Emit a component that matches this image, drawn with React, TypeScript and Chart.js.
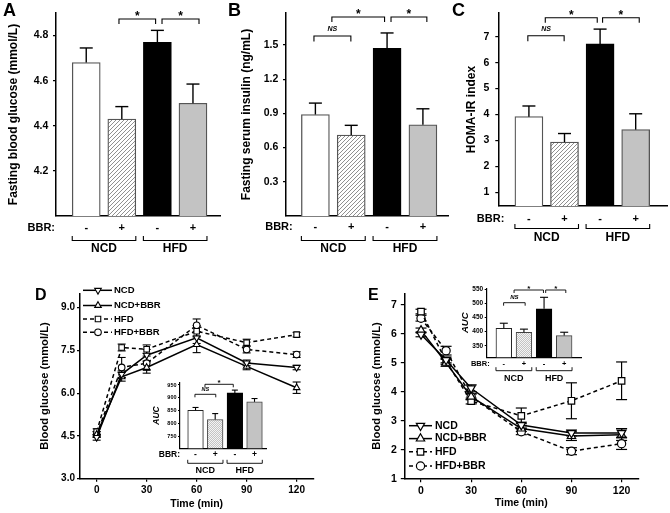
import React, { useEffect, useRef } from "react";
import { Chart, registerables } from "chart.js";

Chart.register(...registerables);

const FONT = "'Liberation Sans', Arial, Helvetica, sans-serif";

/* ================= data ================= */
const groups = ["NCD", "HFD"];
const bbrSigns = ["-", "+", "-", "+"];
const barSlots = [1, 2, 3, 4];

const glucoseMean = [4.68, 4.43, 4.77, 4.5];
const glucoseSem = [0.065, 0.055, 0.053, 0.085];
const glucoseTicks = [4.2, 4.4, 4.6, 4.8];

const insulinMean = [0.89, 0.71, 1.47, 0.8];
const insulinSem = [0.1, 0.085, 0.135, 0.14];
const insulinTicks = [0.3, 0.6, 0.9, 1.2, 1.5];

const homaMean = [3.92, 2.94, 6.72, 3.42];
const homaSem = [0.41, 0.33, 0.57, 0.61];
const homaTicks = [1, 2, 3, 4, 5, 6, 7];

const ogttAuc = [851, 815, 919, 884];
const ogttAucSem = [11, 23, 11, 13];
const ogttAucTicks = [750, 800, 850, 900, 950];

const ittAuc = [412, 398, 481, 386];
const ittAucSem = [18, 11, 41, 12];
const ittAucTicks = [350, 400, 450, 500, 550];

const timeMin = [0, 15, 30, 60, 90, 120];
const timeTicks = [0, 30, 60, 90, 120];
const seriesNames = ["NCD", "NCD+BBR", "HFD", "HFD+BBR"];

const ogttNCD = [4.45, 6.66, 7.33, 7.94, 7.06, 6.9];
const ogttNCDBBR = [4.55, 6.57, 6.9, 7.7, 6.94, 6.19];
const ogttHFD = [4.65, 7.6, 7.54, 8.17, 7.77, 8.05];
const ogttHFDBBR = [4.55, 6.9, 7.05, 8.38, 7.53, 7.35];
const ogttNCDSem = [0.1, 0.12, 0.2, 0.2, 0.1, 0.08];
const ogttNCDBBRSem = [0.1, 0.15, 0.2, 0.28, 0.12, 0.2];
const ogttHFDSem = [0.1, 0.12, 0.15, 0.2, 0.12, 0.08];
const ogttHFDBBRSem = [0.1, 0.35, 0.25, 0.22, 0.12, 0.1];
const ogttTicks = [3.0, 4.5, 6.0, 7.5, 9.0];

const ittNCD = [5.98, 5.1, 4.12, 2.85, 2.58, 2.58];
const ittNCDBBR = [6.12, 5.0, 3.83, 2.73, 2.47, 2.52];
const ittHFD = [6.77, 5.05, 3.68, 3.17, 3.69, 4.38];
const ittHFDBBR = [6.54, 5.42, 3.83, 2.62, 1.95, 2.21];
const ittNCDSem = [0.08, 0.1, 0.12, 0.1, 0.1, 0.15];
const ittNCDBBRSem = [0.08, 0.12, 0.1, 0.1, 0.15, 0.2];
const ittHFDSem = [0.08, 0.1, 0.1, 0.27, 0.62, 0.65];
const ittHFDBBRSem = [0.1, 0.15, 0.1, 0.1, 0.12, 0.2];
const ittTicks = [1, 2, 3, 4, 5, 6, 7];

/* ================= styles / layout ================= */
const lineStyles = [
  { point: "triangle", rot: 180, dashed: false },
  { point: "triangle", rot: 0, dashed: false },
  { point: "rect", rot: 0, dashed: true },
  { point: "circle", rot: 0, dashed: true },
];

type Rect = { l: number; t: number; w: number; h: number };
type Area = { l: number; t: number; r: number; b: number };

const mainBar = {
  barW: 28, barBorder: 1.3, axisW: 1.5, tickW: 1.2, tickLen: 3, tickSize: 10.5,
  titleSize: 12, cap: 13, errW: 1.4, bracketW: 1.1, starSize: 12, starDy: 1,
  nsSize: 7, nsDy: 7, bbrSize: 11, grpSize: 12, grpUp: 4.5,
  fills: ["white", "hatch", "black", "gray"],
  borders: ["#555", "#555", "#000", "#555"],
};

const panelA = {
  ...mainBar,
  rect: { l: 0, t: 0, w: 226, h: 256 }, area: { l: 56, t: 13, r: 220, b: 216 },
  xRange: [0.15, 4.76], yRange: [4.0, 4.9],
  values: glucoseMean, errors: glucoseSem, ticks: glucoseTicks, decimals: 1,
  title: "Fasting blood glucose (mmol/L)", titleX: 13.5, tickPad: 4.7,
  brackets: [
    { from: 1.92, to: 2.95, text: "*", dy: 6, drop: 5 },
    { from: 3.13, to: 4.17, text: "*", dy: 6, drop: 5 },
  ],
  bbrDx: -1, bbrDy: 12, grpDy: 24.5, grpLabelDy: 33,
  letter: { text: "A", x: 3, y: 15.5, size: 18 },
};

const panelB = {
  ...mainBar,
  rect: { l: 225, t: 0, w: 236, h: 256 }, area: { l: 286, t: 13, r: 448, b: 216 },
  xRange: [0.18, 4.7], yRange: [0, 1.78],
  values: insulinMean, errors: insulinSem, ticks: insulinTicks, decimals: 1,
  title: "Fasting serum insulin (ng/mL)", titleX: 246.7, tickPad: 4.7,
  brackets: [
    { from: 0.96, to: 1.99, text: "NS", dy: 23, drop: 5.5 },
    { from: 1.46, to: 2.93, text: "*", dy: 4, drop: 5 },
    { from: 3.11, to: 4.11, text: "*", dy: 4, drop: 5 },
  ],
  bbrDx: 6.7, bbrDy: 11, grpDy: 24.5, grpLabelDy: 33,
  letter: { text: "B", x: 228, y: 15.5, size: 18 },
};

const panelC = {
  ...mainBar,
  rect: { l: 445, t: 0, w: 225, h: 256 }, area: { l: 498.3, t: 13, r: 667, b: 206 },
  xRange: [0.14, 4.88], yRange: [0.48, 7.91],
  values: homaMean, errors: homaSem, ticks: homaTicks, decimals: 0,
  title: "HOMA-IR index", titleX: 471.7, tickPad: 6,
  brackets: [
    { from: 0.97, to: 1.99, text: "NS", dy: 22.7, drop: 5.5 },
    { from: 1.46, to: 2.92, text: "*", dy: 4.7, drop: 5 },
    { from: 3.07, to: 4.1, text: "*", dy: 4.7, drop: 5 },
  ],
  bbrDx: 6, bbrDy: 13.3, grpDy: 22.5, grpLabelDy: 32,
  letter: { text: "C", x: 452, y: 15.5, size: 18 },
};

const insetBar = {
  barBorder: 1, axisW: 1.2, tickW: 1, tickLen: 2, errW: 1.1, bracketW: 0.9,
  fills: ["white", "dots", "black", "gray"],
  borders: ["#222", "#444", "#000", "#444"],
  titleItalic: true, grpUp: 3.5,
};

const insetD = {
  ...insetBar,
  rect: { l: 145, t: 372, w: 128, h: 106 }, area: { l: 180, t: 382.7, r: 266.7, b: 448.3 },
  xRange: [0.21, 4.62], yRange: [702, 959],
  values: ogttAuc, errors: ogttAucSem, ticks: ogttAucTicks, decimals: 0,
  title: "AUC", titleX: 156.7, titleSize: 8.5, tickSize: 5.5, tickPad: 1.5,
  barW: 15.6, cap: 6, starSize: 8, starDy: 0.5, nsSize: 5.5, nsDy: 4.5,
  brackets: [
    { from: 0.97, to: 2.03, text: "NS", dy: 11.6, drop: 3 },
    { from: 1.48, to: 2.92, text: "*", dy: 1.6, drop: 3 },
  ],
  bbrSize: 8.5, bbrDx: 0, bbrDy: 6.7, grpDy: 15, grpLabelDy: 22, grpSize: 9,
  letter: null,
};

const insetE = {
  ...insetBar,
  rect: { l: 455, t: 276, w: 130, h: 108 }, area: { l: 486.7, t: 288.3, r: 581.7, b: 357.3 },
  xRange: [0.15, 4.87], yRange: [309, 554],
  values: ittAuc, errors: ittAucSem, ticks: ittAucTicks, decimals: 0,
  title: "AUC", titleX: 465.5, titleSize: 9.5, tickSize: 6.5, tickPad: 1.5,
  barW: 15.7, cap: 8, starSize: 8, starDy: 0.5, nsSize: 6, nsDy: 5,
  brackets: [
    { from: 0.99, to: 2.06, text: "NS", dy: 14.4, drop: 3 },
    { from: 1.51, to: 2.97, text: "*", dy: 1.7, drop: 3 },
    { from: 3.08, to: 4.08, text: "*", dy: 1.7, drop: 3 },
  ],
  bbrSize: 7.5, bbrDx: 3, bbrDy: 7, grpDy: 13.4, grpLabelDy: 21, grpSize: 9,
  letter: null,
};

const panelD = {
  rect: { l: 0, t: 268, w: 335, h: 245 }, area: { l: 80, t: 293.3, r: 313.3, b: 478.7 },
  xRange: [-10, 130], yRange: [3, 9.5], yTicks: ogttTicks, yDec: 1,
  series: [ogttNCD, ogttNCDBBR, ogttHFD, ogttHFDBBR],
  errors: [ogttNCDSem, ogttNCDBBRSem, ogttHFDSem, ogttHFDBBRSem],
  yTitle: "Blood glucose (mmol/L)", yTitleX: 45, yTitleSize: 11.2,
  xTitle: "Time (min)", xTitleY: 504, xTitleSize: 10.5,
  tickSize: 10, yTickPad: 2, xTickPad: 3, tickLen: 3, axisW: 1.5,
  lineW: 1.5, dash: [4, 3], radius: [3.8, 3.8, 3.9, 3.3], pointBorder: 1.1, cap: 8, errW: 1.1,
  legend: { x1: 83, x2: 112, mx: 98, tx: 114, ys: [290.3, 305.5, 319, 332.3], size: 9.5 },
  letter: { text: "D", x: 35, y: 300, size: 16 },
};

const panelE = {
  rect: { l: 335, t: 268, w: 335, h: 245 }, area: { l: 404.3, t: 293.3, r: 638.3, b: 478.7 },
  xRange: [-10, 130], yRange: [1, 7.4], yTicks: ittTicks, yDec: 0,
  series: [ittNCD, ittNCDBBR, ittHFD, ittHFDBBR],
  errors: [ittNCDSem, ittNCDBBRSem, ittHFDSem, ittHFDBBRSem],
  yTitle: "Blood glucose (mmol/L)", yTitleX: 376.7, yTitleSize: 11.2,
  xTitle: "Time (min)", xTitleY: 503.3, xTitleSize: 10.5,
  tickSize: 10.5, yTickPad: 4, xTickPad: 3, tickLen: 3.5, axisW: 1.5,
  lineW: 1.5, dash: [4, 3], radius: [4.8, 4.8, 4.6, 4.1], pointBorder: 1.2, cap: 11, errW: 1.2,
  legend: { x1: 409, x2: 432, mx: 420.5, tx: 435, ys: [425.7, 438.6, 451.8, 466], size: 10.5 },
  letter: { text: "E", x: 368, y: 300, size: 16 },
};

/* ================= helpers ================= */
function fontStr(size: number, italic = false) {
  return `${italic ? "italic " : ""}bold ${size}px ${FONT}`;
}
function txt(ctx: CanvasRenderingContext2D, s: string, x: number, y: number, size: number,
  align: CanvasTextAlign = "center", baseline: CanvasTextBaseline = "middle", italic = false) {
  ctx.font = fontStr(size, italic);
  ctx.textAlign = align;
  ctx.textBaseline = baseline;
  ctx.fillStyle = "#000";
  ctx.fillText(s, x, y);
}
function seg(ctx: CanvasRenderingContext2D, pts: number[][]) {
  ctx.beginPath();
  ctx.moveTo(pts[0][0], pts[0][1]);
  for (let i = 1; i < pts.length; i++) ctx.lineTo(pts[i][0], pts[i][1]);
  ctx.stroke();
}
function marker(ctx: CanvasRenderingContext2D, style: string, rot: number, r: number, x: number, y: number) {
  ctx.beginPath();
  if (style === "circle") ctx.arc(x, y, r, 0, Math.PI * 2);
  else if (style === "rect") {
    const s = r * Math.SQRT1_2;
    ctx.rect(x - s, y - s, 2 * s, 2 * s);
  } else {
    const rad = (rot * Math.PI) / 180;
    for (let k = 0; k < 3; k++) {
      const a = rad + (k * 2 * Math.PI) / 3;
      const px = x + Math.sin(a) * r, py = y - Math.cos(a) * r;
      if (k) ctx.lineTo(px, py); else ctx.moveTo(px, py);
    }
    ctx.closePath();
  }
  ctx.fill();
  ctx.stroke();
}
function hatchPattern(ctx: CanvasRenderingContext2D) {
  const c = document.createElement("canvas");
  c.width = 4; c.height = 4;
  const g = c.getContext("2d")!;
  g.fillStyle = "#fff"; g.fillRect(0, 0, 4, 4);
  g.strokeStyle = "#909090"; g.lineWidth = 1;
  g.beginPath();
  g.moveTo(0, 4); g.lineTo(4, 0);
  g.moveTo(-1, 1); g.lineTo(1, -1);
  g.moveTo(3, 5); g.lineTo(5, 3);
  g.stroke();
  return ctx.createPattern(c, "repeat")!;
}
function dotPattern(ctx: CanvasRenderingContext2D) {
  const c = document.createElement("canvas");
  c.width = 2; c.height = 2;
  const g = c.getContext("2d")!;
  g.fillStyle = "#f4f4f4"; g.fillRect(0, 0, 2, 2);
  g.fillStyle = "#c4c4c4"; g.fillRect(0, 0, 1, 1); g.fillRect(1, 1, 1, 1);
  return ctx.createPattern(c, "repeat")!;
}

/* ================= bar panels ================= */
function barDecor(p: any) {
  return {
    id: "barDecor",
    afterDatasetsDraw(chart: any) {
      const { ctx, scales: { x, y } } = chart;
      ctx.save();
      ctx.strokeStyle = "#000";
      ctx.lineWidth = p.errW;
      p.values.forEach((v: number, i: number) => {
        const cx = x.getPixelForValue(barSlots[i]);
        const y0 = y.getPixelForValue(v);
        const y1 = y.getPixelForValue(v + p.errors[i]);
        seg(ctx, [[cx, y0], [cx, y1]]);
        seg(ctx, [[cx - p.cap / 2, y1], [cx + p.cap / 2, y1]]);
      });
      ctx.restore();
    },
    afterDraw(chart: any) {
      const { ctx, chartArea: a, scales: { x } } = chart;
      const c = p.rect;
      ctx.save();
      ctx.strokeStyle = "#000";
      ctx.lineWidth = p.bracketW;
      p.brackets.forEach((b: any) => {
        const x1 = x.getPixelForValue(b.from), x2 = x.getPixelForValue(b.to);
        const yb = a.top + b.dy;
        seg(ctx, [[x1, yb + b.drop], [x1, yb], [x2, yb], [x2, yb + b.drop]]);
        if (b.text === "*") txt(ctx, "*", (x1 + x2) / 2, yb + p.starDy, p.starSize, "center", "alphabetic");
        else txt(ctx, b.text, (x1 + x2) / 2, yb - p.nsDy, p.nsSize, "center", "middle", true);
      });
      const rowY = a.bottom + p.bbrDy;
      txt(ctx, "BBR:", a.left + p.bbrDx, rowY, p.bbrSize, "right");
      bbrSigns.forEach((s, i) => txt(ctx, s, x.getPixelForValue(barSlots[i]), rowY, p.bbrSize));
      groups.forEach((g, gi) => {
        const xl = x.getPixelForValue(barSlots[2 * gi]) - p.barW / 2;
        const xr = x.getPixelForValue(barSlots[2 * gi + 1]) + p.barW / 2;
        const gy = a.bottom + p.grpDy;
        seg(ctx, [[xl, gy - p.grpUp], [xl, gy], [xr, gy], [xr, gy - p.grpUp]]);
        txt(ctx, g, (xl + xr) / 2, a.bottom + p.grpLabelDy, p.grpSize);
      });
      if (p.letter) txt(ctx, p.letter.text, p.letter.x - c.l, p.letter.y - c.t, p.letter.size, "left", "alphabetic");
      ctx.restore();
    },
  };
}

function buildBar(canvas: HTMLCanvasElement, p: any) {
  const ctx = canvas.getContext("2d")!;
  const fillMap: Record<string, any> = {
    white: "#ffffff", hatch: hatchPattern(ctx), dots: dotPattern(ctx), black: "#000000", gray: "#c3c3c3",
  };
  const c: Rect = p.rect, a: Area = p.area;
  const lh = p.titleSize * 1.2;
  return new Chart(canvas, {
    type: "bar",
    data: {
      datasets: [{
        data: barSlots.map((s, i) => ({ x: s, y: p.values[i] })),
        backgroundColor: p.fills.map((f: string) => fillMap[f]),
        borderColor: p.borders,
        borderWidth: p.barBorder,
        barThickness: p.barW,
      }],
    },
    options: {
      animation: false, responsive: false, devicePixelRatio: 1, events: [],
      layout: { autoPadding: false, padding: { left: 0, top: a.t - c.t, right: c.l + c.w - a.r, bottom: 0 } },
      plugins: { legend: { display: false }, tooltip: { enabled: false } },
      scales: {
        x: {
          type: "linear", min: p.xRange[0], max: p.xRange[1], offset: false,
          grid: { display: false }, ticks: { display: false },
          border: { display: true, color: "#000", width: p.axisW },
          afterFit: (s: any) => { s.height = c.t + c.h - a.b; },
        },
        y: {
          type: "linear", min: p.yRange[0], max: p.yRange[1],
          afterBuildTicks: (s: any) => { s.ticks = p.ticks.map((v: number) => ({ value: v })); },
          ticks: {
            color: "#000", autoSkip: false, padding: p.tickPad,
            font: { family: FONT, size: p.tickSize, weight: "bold" },
            callback: (v: any) => Number(v).toFixed(p.decimals),
          },
          grid: { display: true, drawOnChartArea: false, drawTicks: true, tickLength: p.tickLen, color: "#000", lineWidth: p.tickW },
          border: { display: true, color: "#000", width: p.axisW },
          title: {
            display: true, text: p.title, color: "#000",
            font: { family: FONT, size: p.titleSize, weight: "bold", style: p.titleItalic ? "italic" : "normal" },
            padding: { top: p.titleX - c.l - lh / 2, bottom: 0 },
          },
          afterFit: (s: any) => { s.width = a.l - c.l; },
        },
      },
    } as any,
    plugins: [barDecor(p)],
  } as any);
}

/* ================= line panels ================= */
function lineDecor(p: any) {
  return {
    id: "lineDecor",
    beforeDatasetsDraw(chart: any) {
      const { ctx, scales: { x, y } } = chart;
      ctx.save();
      ctx.strokeStyle = "#000";
      ctx.lineWidth = p.errW;
      p.series.forEach((vals: number[], si: number) => {
        vals.forEach((v, i) => {
          const cx = x.getPixelForValue(timeMin[i]);
          const e = p.errors[si][i];
          const yt = y.getPixelForValue(v + e), yb = y.getPixelForValue(v - e);
          seg(ctx, [[cx, yt], [cx, yb]]);
          seg(ctx, [[cx - p.cap / 2, yt], [cx + p.cap / 2, yt]]);
          seg(ctx, [[cx - p.cap / 2, yb], [cx + p.cap / 2, yb]]);
        });
      });
      ctx.restore();
    },
    afterDraw(chart: any) {
      const { ctx } = chart;
      const c = p.rect, L = p.legend;
      ctx.save();
      seriesNames.forEach((name, si) => {
        const st = lineStyles[si];
        const yy = L.ys[si] - c.t;
        ctx.strokeStyle = "#000";
        ctx.lineWidth = p.lineW;
        ctx.setLineDash(st.dashed ? p.dash : []);
        seg(ctx, [[L.x1 - c.l, yy], [L.x2 - c.l, yy]]);
        ctx.setLineDash([]);
        ctx.fillStyle = "#fff";
        ctx.lineWidth = p.pointBorder;
        marker(ctx, st.point, st.rot, p.radius[si], L.mx - c.l, yy);
        txt(ctx, name, L.tx - c.l, yy, L.size, "left");
      });
      txt(ctx, p.letter.text, p.letter.x - c.l, p.letter.y - c.t, p.letter.size, "left", "alphabetic");
      ctx.restore();
    },
  };
}

function buildLine(canvas: HTMLCanvasElement, p: any) {
  const c: Rect = p.rect, a: Area = p.area;
  const ylh = p.yTitleSize * 1.2, xlh = p.xTitleSize * 1.2;
  const tickFont = { family: FONT, size: p.tickSize, weight: "bold" };
  const gridOpts = { display: true, drawOnChartArea: false, drawTicks: true, tickLength: p.tickLen, color: "#000", lineWidth: 1.2 };
  const datasets = p.series.map((vals: number[], si: number) => {
    const st = lineStyles[si];
    return {
      label: seriesNames[si],
      data: timeMin.map((t, i) => ({ x: t, y: vals[i] })),
      borderColor: "#000", borderWidth: p.lineW, borderDash: st.dashed ? p.dash : [],
      pointStyle: st.point, pointRotation: st.rot, pointRadius: p.radius[si],
      pointBackgroundColor: "#fff", pointBorderColor: "#000", pointBorderWidth: p.pointBorder,
      tension: 0, fill: false, clip: false,
    };
  });
  return new Chart(canvas, {
    type: "line",
    data: { datasets },
    options: {
      animation: false, responsive: false, devicePixelRatio: 1, events: [],
      layout: { autoPadding: false, padding: { left: 0, top: a.t - c.t, right: c.l + c.w - a.r, bottom: 0 } },
      plugins: { legend: { display: false }, tooltip: { enabled: false } },
      scales: {
        x: {
          type: "linear", min: p.xRange[0], max: p.xRange[1],
          afterBuildTicks: (s: any) => { s.ticks = timeTicks.map((v) => ({ value: v })); },
          ticks: { color: "#000", autoSkip: false, maxRotation: 0, padding: p.xTickPad, font: tickFont, callback: (v: any) => String(v) },
          grid: gridOpts,
          border: { display: true, color: "#000", width: p.axisW },
          title: {
            display: true, text: p.xTitle, color: "#000",
            font: { family: FONT, size: p.xTitleSize, weight: "bold" },
            padding: { top: 0, bottom: c.t + c.h - p.xTitleY - xlh / 2 },
          },
          afterFit: (s: any) => { s.height = c.t + c.h - a.b; },
        },
        y: {
          type: "linear", min: p.yRange[0], max: p.yRange[1],
          afterBuildTicks: (s: any) => { s.ticks = p.yTicks.map((v: number) => ({ value: v })); },
          ticks: { color: "#000", autoSkip: false, padding: p.yTickPad, font: tickFont, callback: (v: any) => Number(v).toFixed(p.yDec) },
          grid: gridOpts,
          border: { display: true, color: "#000", width: p.axisW },
          title: {
            display: true, text: p.yTitle, color: "#000",
            font: { family: FONT, size: p.yTitleSize, weight: "bold" },
            padding: { top: p.yTitleX - c.l - ylh / 2, bottom: 0 },
          },
          afterFit: (s: any) => { s.width = a.l - c.l; },
        },
      },
    } as any,
    plugins: [lineDecor(p)],
  } as any);
}

/* ================= components ================= */
function ChartCanvas({ spec, kind }: { spec: any; kind: "bar" | "line" }) {
  const ref = useRef<HTMLCanvasElement>(null);
  useEffect(() => {
    const canvas = ref.current!;
    const chart = kind === "bar" ? buildBar(canvas, spec) : buildLine(canvas, spec);
    return () => chart.destroy();
  }, [spec, kind]);
  const r: Rect = spec.rect;
  return (
    <canvas
      ref={ref}
      width={r.w}
      height={r.h}
      style={{ position: "absolute", left: r.l, top: r.t, width: r.w, height: r.h }}
    />
  );
}

export default function App() {
  return (
    <div style={{ position: "fixed", left: 0, top: 0, width: 670, height: 513, background: "#fff", overflow: "hidden" }}>
      <ChartCanvas spec={panelA} kind="bar" />
      <ChartCanvas spec={panelB} kind="bar" />
      <ChartCanvas spec={panelC} kind="bar" />
      <ChartCanvas spec={panelD} kind="line" />
      <ChartCanvas spec={panelE} kind="line" />
      <ChartCanvas spec={insetD} kind="bar" />
      <ChartCanvas spec={insetE} kind="bar" />
    </div>
  );
}
